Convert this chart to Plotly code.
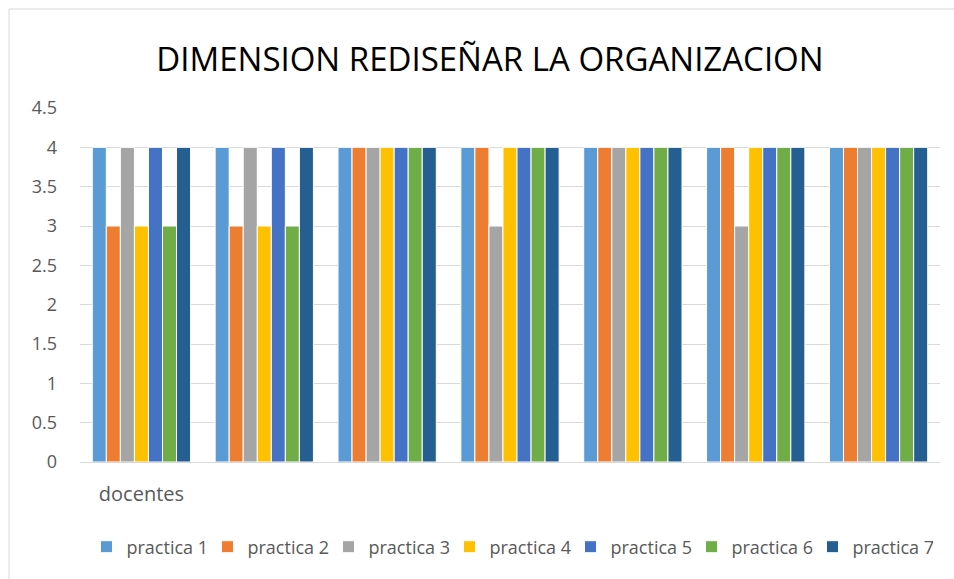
import plotly.graph_objects as go

categories = ["docentes", "", "", "", "", "", ""]
series_names = ["practica 1", "practica 2", "practica 3", "practica 4",
                "practica 5", "practica 6", "practica 7"]
practica_1 = [4, 4, 4, 4, 4, 4, 4]
practica_2 = [3, 3, 4, 4, 4, 4, 4]
practica_3 = [4, 4, 4, 3, 4, 3, 4]
practica_4 = [3, 3, 4, 4, 4, 4, 4]
practica_5 = [4, 4, 4, 4, 4, 4, 4]
practica_6 = [3, 3, 4, 4, 4, 4, 4]
practica_7 = [4, 4, 4, 4, 4, 4, 4]
series_values = [practica_1, practica_2, practica_3, practica_4,
                 practica_5, practica_6, practica_7]
colors = ["#5B9BD5", "#ED7D31", "#A5A5A5", "#FFC000", "#4472C4", "#70AD47", "#255E91"]
y_ticks = [0, 0.5, 1, 1.5, 2, 2.5, 3, 3.5, 4, 4.5]
y_tick_labels = ["0", "0.5", "1", "1.5", "2", "2.5", "3", "3.5", "4", "4.5"]

FONT = "Open Sans"
x_pos = list(range(len(categories)))

fig = go.Figure()
for name, vals, col in zip(series_names, series_values, colors):
    fig.add_trace(go.Bar(
        x=x_pos, y=vals, name=name,
        marker=dict(color=col, line=dict(color="white", width=1)),
    ))

L, R, T, B = 80, 14, 108, 117
W, H = 954, 579
pw, ph = W - L - R, H - T - B

fig.update_layout(
    width=W, height=H,
    margin=dict(l=L, r=R, t=T, b=B, autoexpand=False),
    paper_bgcolor="white", plot_bgcolor="white",
    barmode="group", bargap=0.2, bargroupgap=0,
    title=dict(text="DIMENSION REDISEÑAR LA ORGANIZACION",
               x=490 / W, xanchor="center", y=1 - 59 / H, yanchor="middle",
               font=dict(family=FONT, size=33, color="#000000")),
    font=dict(family=FONT, color="#595959", size=18),
    xaxis=dict(tickmode="array", tickvals=x_pos, ticktext=categories,
               range=[-0.5, len(categories) - 0.5],
               showgrid=False, showline=True, linecolor="#D9D9D9", linewidth=1,
               ticks="", ticklabelstandoff=14,
               tickfont=dict(size=20, color="#595959")),
    yaxis=dict(range=[0, 4.5], tickmode="array", tickvals=y_ticks, ticktext=y_tick_labels,
               showgrid=True, gridcolor="#D9D9D9", gridwidth=1,
               zeroline=False, showline=False, ticks="", ticklabelstandoff=22,
               tickfont=dict(size=18, color="#595959")),
    legend=dict(orientation="h", x=0.5, xanchor="center", y=-(547 - (T + ph)) / ph,
                yanchor="middle", font=dict(size=18, color="#595959"),
                itemwidth=30, entrywidth=76, entrywidthmode="pixels",
                tracegroupgap=0, traceorder="normal"),
    showlegend=True,
)

fig.add_shape(type="rect", xref="paper", yref="paper",
              x0=(9 - L) / pw, x1=(W + 5 - L) / pw,
              y0=-(H + 5 - (T + ph)) / ph, y1=(T + ph - 9) / ph,
              line=dict(color="#D9D9D9", width=1), fillcolor="rgba(0,0,0,0)", layer="below")

fig.write_html("out.html", config={"displayModeBar": False})

with open("out.html", "r", encoding="utf-8") as f:
    html = f.read()
html = html.replace("<body>", '<body style="margin:0;padding:0;overflow:hidden">', 1)
with open("out.html", "w", encoding="utf-8") as f:
    f.write(html)
